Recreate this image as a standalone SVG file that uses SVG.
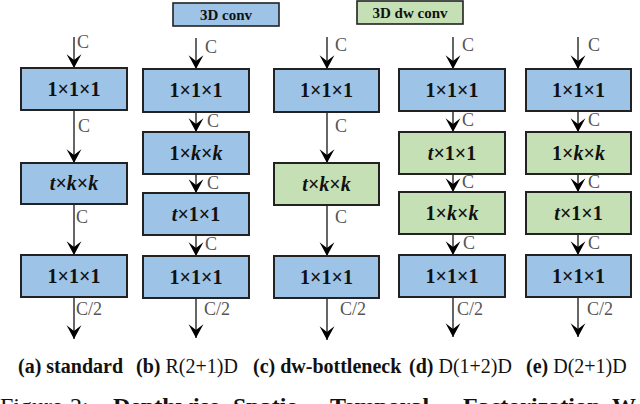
<svg xmlns="http://www.w3.org/2000/svg" width="640" height="404" viewBox="0 0 640 404">
<defs>
<marker id="ah" markerUnits="userSpaceOnUse" markerWidth="16" markerHeight="16" refX="0" refY="0" viewBox="-13 -7 14 14" orient="auto" overflow="visible">
<path d="M0,0 L-12,-6.5 L-7,0 L-12,6.5 Z" fill="#000"/>
</marker>
</defs>
<style>
.bg{fill:#fff}
.b{fill:#9DC3E6;stroke:#222;stroke-width:2}
.g{fill:#C5E0B4;stroke:#222;stroke-width:2}
.lg{stroke-width:1.6}
.t{font-weight:bold;font-size:20px;fill:#111;text-anchor:middle}
.i{font-style:italic}
.leg{font-weight:bold;font-size:15px;fill:#111;text-anchor:middle}
.c{font-size:18px;fill:#555}
.cap{font-size:20px;fill:#111}
.bd{font-weight:bold}
.fig{font-size:24px;fill:#111}
.ar{stroke:#333;stroke-width:1.5;fill:none;marker-end:url(#ah)}
</style>
<rect class="bg" x="0" y="0" width="640" height="404"/>
<g font-family="Liberation Serif, Times New Roman, DejaVu Serif, serif">
<g id="legend-3dconv">
<rect class="b lg" x="173" y="3" width="106" height="23"/>
<text class="leg" x="226" y="20">3D conv</text>
</g>
<g id="legend-3ddwconv">
<rect class="g lg" x="357" y="1" width="106" height="23"/>
<text class="leg" x="410" y="18">3D dw conv</text>
</g>

<g id="connectors">
<line class="ar" x1="74" y1="37" x2="74" y2="68"/>
<line class="ar" x1="74" y1="110" x2="74" y2="163"/>
<line class="ar" x1="74" y1="204" x2="74" y2="255"/>
<line class="ar" x1="74" y1="297" x2="74" y2="339"/>

<line class="ar" x1="196" y1="38" x2="196" y2="69"/>
<line class="ar" x1="196" y1="112" x2="196" y2="132"/>
<line class="ar" x1="196" y1="174" x2="196" y2="193"/>
<line class="ar" x1="196" y1="235" x2="196" y2="256"/>
<line class="ar" x1="196" y1="298" x2="196" y2="338"/>

<line class="ar" x1="327" y1="37" x2="327" y2="69"/>
<line class="ar" x1="327" y1="112" x2="327" y2="163"/>
<line class="ar" x1="327" y1="205" x2="327" y2="256"/>
<line class="ar" x1="327" y1="298" x2="327" y2="340"/>

<line class="ar" x1="453" y1="37" x2="453" y2="69"/>
<line class="ar" x1="453" y1="111" x2="453" y2="132"/>
<line class="ar" x1="453" y1="174" x2="453" y2="192"/>
<line class="ar" x1="453" y1="234" x2="453" y2="255"/>
<line class="ar" x1="453" y1="297" x2="453" y2="337"/>

<line class="ar" x1="578" y1="37" x2="578" y2="69"/>
<line class="ar" x1="578" y1="111" x2="578" y2="132"/>
<line class="ar" x1="578" y1="174" x2="578" y2="192"/>
<line class="ar" x1="578" y1="234" x2="578" y2="255"/>
<line class="ar" x1="578" y1="297" x2="578" y2="337"/>

<text class="c" x="77" y="48">C</text>
<text class="c" x="78" y="132">C</text>
<text class="c" x="76" y="223">C</text>
<text class="c" x="76" y="315">C/2</text>

<text class="c" x="205" y="53">C</text>
<text class="c" x="207" y="127">C</text>
<text class="c" x="207" y="189">C</text>
<text class="c" x="205" y="250">C</text>
<text class="c" x="204" y="315">C/2</text>

<text class="c" x="335" y="51">C</text>
<text class="c" x="335" y="132">C</text>
<text class="c" x="335" y="223">C</text>
<text class="c" x="340" y="315">C/2</text>

<text class="c" x="462" y="51">C</text>
<text class="c" x="462" y="126">C</text>
<text class="c" x="462" y="188">C</text>
<text class="c" x="463" y="249">C</text>
<text class="c" x="457" y="315">C/2</text>

<text class="c" x="588" y="51">C</text>
<text class="c" x="588" y="126">C</text>
<text class="c" x="588" y="188">C</text>
<text class="c" x="588" y="249">C</text>
<text class="c" x="587" y="315">C/2</text>
</g>

<g id="a1"><rect class="b" x="21" y="68" width="106" height="42"/><text class="t" x="74" y="96">1×1×1</text></g>
<g id="a2"><rect class="b" x="21" y="163" width="106" height="41"/><text class="t" x="74" y="190"><tspan class="i">t</tspan>×<tspan class="i">k</tspan>×<tspan class="i">k</tspan></text></g>
<g id="a3"><rect class="b" x="21" y="255" width="106" height="42"/><text class="t" x="74" y="283">1×1×1</text></g>

<g id="b1"><rect class="b" x="143" y="69" width="106" height="43"/><text class="t" x="196" y="97">1×1×1</text></g>
<g id="b2"><rect class="b" x="143" y="132" width="106" height="42"/><text class="t" x="196" y="160">1×<tspan class="i">k</tspan>×<tspan class="i">k</tspan></text></g>
<g id="b3"><rect class="b" x="143" y="193" width="106" height="42"/><text class="t" x="196" y="221"><tspan class="i">t</tspan>×1×1</text></g>
<g id="b4"><rect class="b" x="143" y="256" width="106" height="42"/><text class="t" x="196" y="284">1×1×1</text></g>

<g id="c1"><rect class="b" x="274" y="69" width="105" height="43"/><text class="t" x="326.5" y="97">1×1×1</text></g>
<g id="c2"><rect class="g" x="274" y="163" width="105" height="42"/><text class="t" x="326.5" y="191"><tspan class="i">t</tspan>×<tspan class="i">k</tspan>×<tspan class="i">k</tspan></text></g>
<g id="c3"><rect class="b" x="274" y="256" width="105" height="42"/><text class="t" x="326.5" y="284">1×1×1</text></g>

<g id="d1"><rect class="b" x="399" y="69" width="106" height="42"/><text class="t" x="452" y="97">1×1×1</text></g>
<g id="d2"><rect class="g" x="399" y="132" width="106" height="42"/><text class="t" x="452" y="160"><tspan class="i">t</tspan>×1×1</text></g>
<g id="d3"><rect class="g" x="399" y="192" width="106" height="42"/><text class="t" x="452" y="220">1×<tspan class="i">k</tspan>×<tspan class="i">k</tspan></text></g>
<g id="d4"><rect class="b" x="399" y="255" width="106" height="42"/><text class="t" x="452" y="283">1×1×1</text></g>

<g id="e1"><rect class="b" x="526" y="69" width="105" height="42"/><text class="t" x="578.5" y="97">1×1×1</text></g>
<g id="e2"><rect class="g" x="526" y="132" width="105" height="42"/><text class="t" x="578.5" y="160">1×<tspan class="i">k</tspan>×<tspan class="i">k</tspan></text></g>
<g id="e3"><rect class="g" x="526" y="192" width="105" height="42"/><text class="t" x="578.5" y="220"><tspan class="i">t</tspan>×1×1</text></g>
<g id="e4"><rect class="b" x="526" y="255" width="105" height="42"/><text class="t" x="578.5" y="283">1×1×1</text></g>

<g id="captions">
<text class="cap bd" x="18" y="373">(a) standard</text>
<text class="cap" x="136" y="373"><tspan class="bd">(b)</tspan> R(2+1)D</text>
<text class="cap bd" x="253" y="373">(c) dw-bottleneck</text>
<text class="cap" x="409" y="373"><tspan class="bd">(d)</tspan> D(1+2)D</text>
<text class="cap" x="526" y="373"><tspan class="bd">(e)</tspan> D(2+1)D</text>
<text class="fig" y="414"><tspan x="0">Figure</tspan><tspan x="70">2:</tspan><tspan class="bd" x="113">Depthwise</tspan><tspan class="bd" x="233">Spatio-</tspan><tspan class="bd" x="330">Temporal</tspan><tspan class="bd" x="463">Factorization</tspan><tspan class="bd" x="612">W</tspan></text>
</g>
</g>
</svg>
